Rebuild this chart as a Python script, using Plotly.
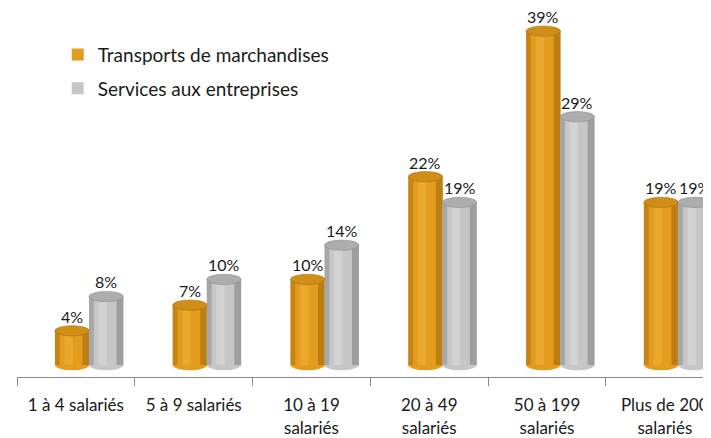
import plotly.graph_objects as go

categories = ["1 à 4 salariés", "5 à 9 salariés", "10 à 19<br>salariés",
              "20 à 49<br>salariés", "50 à 199<br>salariés", "Plus de 200<br>salariés"]
transports = [4, 7, 10, 22, 39, 19]
services = [8, 10, 14, 19, 29, 19]

series = [
    # nom, valeurs, décalage, couleurs (bord, milieu, reflet, dessus)
    ("Transports de marchandises", transports, -0.178, ("#A86E0E", "#E49C1E", "#F2B440", "#CF8E16")),
    ("Services aux entreprises", services, 0.111, ("#8A8A8A", "#C6C6C6", "#DEDEDE", "#ADADAD")),
]
largeur = 0.292
cap_h = 0.6  # demi-hauteur de l'ellipse en %

fig = go.Figure()
shapes = []
annotations = []

for nom, vals, off, (c_bord, c_mil, c_ref, c_top) in series:
    # couches pour simuler le cylindre
    fig.add_trace(go.Bar(x=categories, y=vals, name=nom, legendgroup=nom, offset=off, width=largeur,
                         marker=dict(color=c_mil, line=dict(width=0)), showlegend=True,
                         hoverinfo="skip"))
    fig.add_trace(go.Bar(x=categories, y=vals, legendgroup=nom, offset=off, width=largeur * 0.14,
                         marker=dict(color=c_bord, line=dict(width=0)), showlegend=False,
                         opacity=0.5, hoverinfo="skip"))
    fig.add_trace(go.Bar(x=categories, y=vals, legendgroup=nom, offset=off + largeur * 0.80,
                         width=largeur * 0.20,
                         marker=dict(color=c_bord, line=dict(width=0)), showlegend=False,
                         opacity=0.65, hoverinfo="skip"))
    fig.add_trace(go.Bar(x=categories, y=vals, legendgroup=nom, offset=off + largeur * 0.28,
                         width=largeur * 0.24,
                         marker=dict(color=c_ref, line=dict(width=0)), showlegend=False,
                         opacity=0.5, hoverinfo="skip"))
    for i, v in enumerate(vals):
        x0 = i + off
        x1 = x0 + largeur
        # fond arrondi
        shapes.append(dict(type="circle", xref="x", yref="y", x0=x0, x1=x1,
                           y0=-cap_h, y1=cap_h, fillcolor=c_mil, line=dict(width=0),
                           layer="below"))
        # dessus du cylindre
        shapes.append(dict(type="circle", xref="x", yref="y", x0=x0, x1=x1,
                           y0=v - cap_h, y1=v + cap_h, fillcolor=c_top,
                           line=dict(width=0.6, color=c_bord), layer="above"))
        annotations.append(dict(x=(x0 + x1) / 2, y=v + cap_h, xref="x", yref="y",
                                text=f"{v}%", showarrow=False, yanchor="bottom", yshift=-2,
                                font=dict(size=16, color="#1a1a1a")))

fig.update_layout(
    width=711, height=438,
    margin=dict(l=9, r=0, t=0, b=69),
    barmode="overlay",
    plot_bgcolor="white", paper_bgcolor="white",
    font=dict(family="Lato, Open Sans, sans-serif", size=15, color="#1a1a1a"),
    shapes=shapes,
    annotations=annotations,
    legend=dict(x=0.058, y=0.925, xanchor="left", yanchor="top",
                bgcolor="rgba(0,0,0,0)", font=dict(size=19),
                itemsizing="constant", tracegroupgap=6),
)
fig.update_xaxes(type="category", range=[-0.5, 5.46], tickson="boundaries",
                 showline=True, linecolor="#8a8a8a", linewidth=1,
                 ticks="outside", ticklen=8, tickcolor="#8a8a8a",
                 ticklabelstandoff=13,
                 showgrid=False, zeroline=False, tickfont=dict(size=17))
fig.update_yaxes(range=[-1.4, 41.7], visible=False, showgrid=False, zeroline=False)

fig.write_html("out.html")
